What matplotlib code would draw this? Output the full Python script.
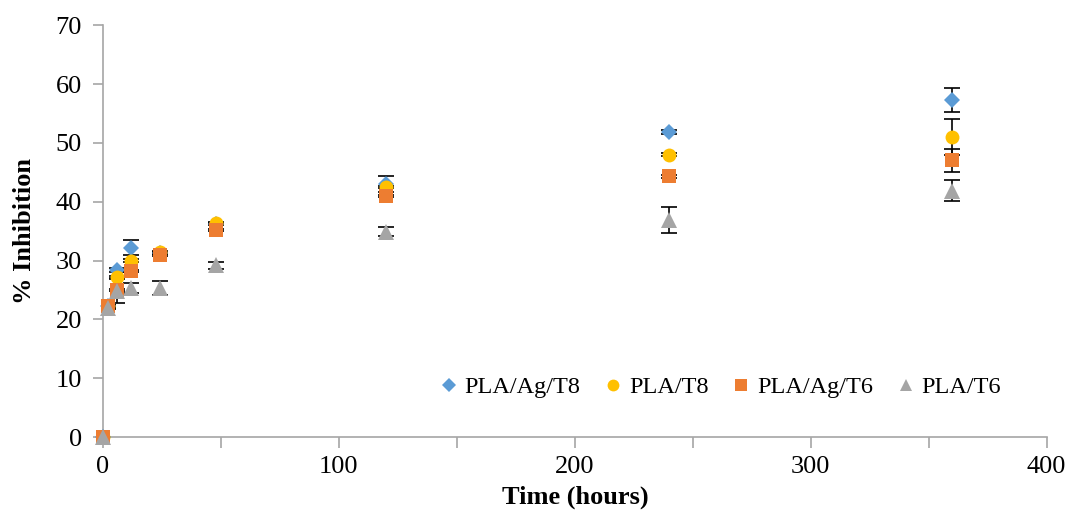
import numpy as np
import matplotlib
matplotlib.use("Agg")
import matplotlib.pyplot as plt

plt.rcParams['font.family'] = ['Liberation Serif', 'DejaVu Serif']

# data
time_h = [0, 2, 6, 12, 24, 48, 120, 240, 360]
series_names = ['PLA/Ag/T8', 'PLA/T8', 'PLA/Ag/T6', 'PLA/T6']
pla_ag_t8 = [0, 22.2, 28.4, 32.2, 31.3, 36.2, 43.0, 51.8, 57.3]
pla_t8 = [0, 22.3, 27.2, 30.0, 31.5, 36.4, 42.5, 48.0, 51.0]
pla_ag_t6 = [0, 22.3, 25.0, 28.2, 30.9, 35.2, 41.0, 44.3, 47.0]
pla_t6 = [0, 21.9, 24.8, 25.3, 25.4, 29.2, 34.9, 36.9, 41.9]
err_ag_t8 = [0, 0.2, 0.3, 1.3, 0.2, 0.2, 1.3, 0.3, 2.1]
err_t8 = [0, 0.2, 0.2, 0.2, 0.2, 0.2, 0.2, 0.2, 3.0]
err_ag_t6 = [0, 0.2, 0.2, 0.2, 0.2, 0.2, 0.2, 0.2, 2.0]
err_t6 = [0, 0.2, 2.0, 0.8, 1.2, 0.6, 0.8, 2.2, 1.8]

values = [pla_ag_t8, pla_t8, pla_ag_t6, pla_t6]
errors = [err_ag_t8, err_t8, err_ag_t6, err_t6]
colors = ['#5B9BD5', '#FFC000', '#ED7D31', '#A5A5A5']
markers = ['D', 'o', 's', '^']
msizes = [8, 10, 10, 11]

fig = plt.figure(figsize=(10.68, 5.14), dpi=100)
ax = fig.add_axes([0.0964, 0.1498, 0.8836, 0.8012])

# error bars first (behind markers)
for v, e in zip(values, errors):
    ax.errorbar(time_h, v, yerr=e, fmt='none', ecolor='black', elinewidth=1.2,
                capsize=6, capthick=1.2, zorder=2)

for v, c, m, ms, name in zip(values, colors, markers, msizes, series_names):
    ax.plot(time_h, v, linestyle='none', marker=m, markersize=ms, color=c,
            markeredgewidth=0, label=name, zorder=3, clip_on=False)

ax.set_xlim(0, 400)
ax.set_ylim(0, 70)
ax.set_xticks(np.arange(0, 401, 100))
ax.set_xticks(np.arange(0, 401, 50), minor=True)
ax.set_yticks(np.arange(0, 71, 10))

for s in ['top', 'right']:
    ax.spines[s].set_visible(False)
for s in ['left', 'bottom']:
    ax.spines[s].set_color('#A6A6A6')
    ax.spines[s].set_linewidth(1.2)

ax.tick_params(axis='both', which='both', color='#A6A6A6', width=1.2,
               labelsize=19, direction='out')
ax.tick_params(axis='x', which='major', length=8, pad=6)
ax.tick_params(axis='x', which='minor', length=8)
ax.tick_params(axis='y', length=7, pad=8)

fig.text(0.5385, 1 - 497 / 514, 'Time (hours)', fontsize=19, fontweight='bold',
         ha='center', va='center')
ax.set_ylabel('% Inhibition', fontsize=19, fontweight='bold', labelpad=14)

ax.legend(loc='center right', bbox_to_anchor=(0.975, 0.121), ncol=4,
          frameon=False, fontsize=17.5, markerscale=0.85, handletextpad=0.1,
          columnspacing=0.8, handlelength=1.1)

fig.savefig('out.png', dpi=100)
